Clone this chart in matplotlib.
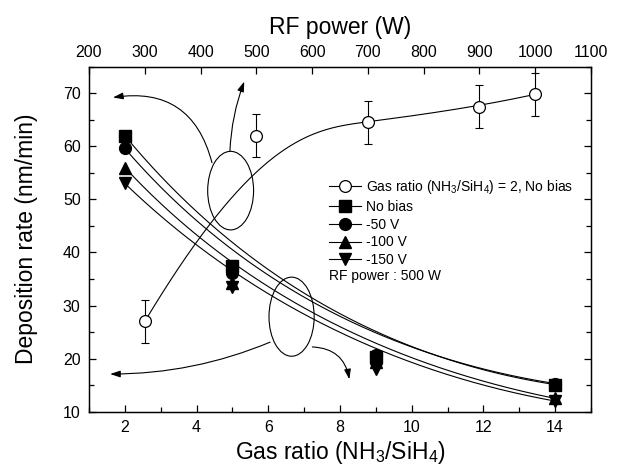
import numpy as np
import matplotlib
matplotlib.use('Agg')
import matplotlib.pyplot as plt
from matplotlib.patches import Ellipse
from matplotlib.lines import Line2D
from matplotlib.ticker import MultipleLocator

plt.rcParams['font.family'] = ['Liberation Sans', 'DejaVu Sans']
plt.rcParams['mathtext.default'] = 'regular'

# ---- data ----
gas_ratio = [2, 5, 9, 14]
rate_nobias = [62.0, 37.5, 20.3, 15.1]
rate_50v = [59.6, 36.1, 20.6, 15.3]
rate_100v = [56.0, 34.2, 19.3, 12.5]
rate_150v = [53.0, 33.5, 18.1, 12.0]

rf_power = [300, 500, 700, 900, 1000]
rf_rate = [27.0, 62.0, 64.5, 67.5, 69.8]
rf_err = [4.0, 4.0, 4.0, 4.0, 4.0]


def bspline(px, py, n=300, k=3):
    """clamped B-spline through the data points used as control points"""
    px = np.asarray(px, float)
    py = np.asarray(py, float)
    m = len(px)
    k = min(k, m - 1)
    t = np.concatenate([np.zeros(k), np.linspace(0, 1, m - k + 1), np.ones(k)])
    u = np.linspace(0, 1 - 1e-9, n)
    N = [((t[i] <= u) & (u < t[i + 1])).astype(float) for i in range(len(t) - 1)]
    for p in range(1, k + 1):
        new = []
        for i in range(len(t) - 1 - p):
            a = 0.0 if t[i + p] == t[i] else (u - t[i]) / (t[i + p] - t[i]) * N[i]
            b = 0.0 if t[i + p + 1] == t[i + 1] else (t[i + p + 1] - u) / (t[i + p + 1] - t[i + 1]) * N[i + 1]
            new.append(a + b)
        N = new
    N = np.array(N)
    return px @ N, py @ N


fig = plt.figure(figsize=(6.21, 4.73), dpi=100)
ax = fig.add_axes([0.1433, 0.1296, 0.8084, 0.7294])

lw = 0.8
series = [
    (rate_nobias, 's', 8, 'No bias'),
    (rate_50v, 'o', 8.5, '-50 V'),
    (rate_100v, '^', 9, '-100 V'),
    (rate_150v, 'v', 9, '-150 V'),
]
handles = []
for vals, mk, ms, lab in series:
    cx, cy = bspline(gas_ratio, vals)
    ax.plot(cx, cy, color='k', lw=lw, zorder=2)
    ax.plot(gas_ratio, vals, linestyle='none', marker=mk, ms=ms, color='k', zorder=3)
    handles.append(Line2D([], [], color='k', lw=lw, marker=mk, ms=ms, label=lab))

ax.set_xlim(1, 15)
ax.set_ylim(10, 75)
ax.xaxis.set_major_locator(MultipleLocator(2))
ax.xaxis.set_minor_locator(MultipleLocator(1))
ax.yaxis.set_major_locator(MultipleLocator(10))
ax.yaxis.set_minor_locator(MultipleLocator(5))
ax.tick_params(which='both', direction='in', right=True, top=False,
               labelsize=11.5, pad=6, width=0.9)
ax.tick_params(which='major', length=5)
ax.tick_params(which='minor', length=3.5)
ax.set_xlabel('Gas ratio (NH$_3$/SiH$_4$)', fontsize=16.5, labelpad=3)
ax.set_ylabel('Deposition rate (nm/min)', fontsize=16.5, labelpad=18)
for s in ax.spines.values():
    s.set_linewidth(1.0)

# top axis: RF power
ax2 = ax.twiny()
ax2.set_xlim(200, 1100)
ax2.xaxis.set_major_locator(MultipleLocator(100))
ax2.tick_params(direction='in', length=5, labelsize=11.5, pad=5, width=0.9)
ax2.set_xlabel('RF power (W)', fontsize=16.5, labelpad=8)
rx, ry = bspline(rf_power, rf_rate)
ax2.plot(rx, ry, color='k', lw=lw, zorder=2)
ax2.errorbar(rf_power, rf_rate, yerr=rf_err, fmt='none', ecolor='k',
             elinewidth=lw, capsize=3, capthick=lw, zorder=3)
ax2.plot(rf_power, rf_rate, linestyle='none', marker='o', ms=8.5,
         mfc='white', mec='k', mew=0.9, zorder=4)
rf_handle = Line2D([], [], color='k', lw=lw, marker='o', ms=8.5, mfc='white',
                   mec='k', mew=0.9,
                   label='Gas ratio (NH$_3$/SiH$_4$) = 2, No bias')

leg = ax2.legend(handles=[rf_handle] + handles, loc='upper left',
                 bbox_to_anchor=(0.478, 0.678), frameon=False, fontsize=10,
                 borderpad=0, borderaxespad=0, handlelength=2.3,
                 handletextpad=0.35, labelspacing=0.28)
ax2.text(0.478, 0.394, 'RF power : 500 W', transform=ax2.transAxes,
         fontsize=10, va='center', ha='left')

# ellipses and arrows pointing to the axes
ax.add_patch(Ellipse((4.95, 51.65), 1.28, 14.8, fill=False, lw=lw, color='k'))
ax.add_patch(Ellipse((6.65, 27.9), 1.26, 14.9, fill=False, lw=lw, color='k'))

arrow = dict(arrowstyle='-|>,head_length=0.6,head_width=0.2', color='k',
             lw=lw, shrinkA=0, shrinkB=0)
ax.annotate('', xy=(1.67, 69.2), xytext=(4.43, 56.9),
            arrowprops=dict(arrow, connectionstyle='arc3,rad=0.45'))
ax.annotate('', xy=(5.33, 72.2), xytext=(4.93, 59.1),
            arrowprops=dict(arrow, connectionstyle='arc3,rad=-0.08'))
ax.annotate('', xy=(1.59, 17.1), xytext=(6.05, 23.1),
            arrowprops=dict(arrow, connectionstyle='arc3,rad=-0.1'))
ax.annotate('', xy=(8.26, 16.1), xytext=(7.23, 22.2),
            arrowprops=dict(arrow, connectionstyle='arc3,rad=-0.4'))

fig.savefig('out.png', dpi=100)
